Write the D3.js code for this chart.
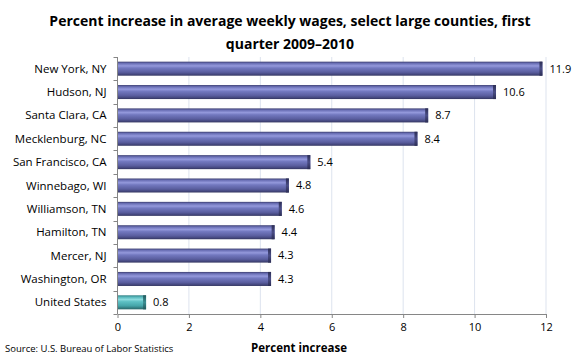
<!DOCTYPE html>
<html><head><meta charset="utf-8">
<script src="https://cdn.jsdelivr.net/npm/d3@7"></script>
<style>body{margin:0;background:#fff}svg{display:block}text{font-family:"Open Sans","Noto Sans",sans-serif}</style>
</head><body>
<svg id="c" width="580" height="360"></svg>
<script>
const categories = ["New York, NY","Hudson, NJ","Santa Clara, CA","Mecklenburg, NC","San Francisco, CA","Winnebago, WI","Williamson, TN","Hamilton, TN","Mercer, NJ","Washington, OR","United States"];
const values = [11.9,10.6,8.7,8.4,5.4,4.8,4.6,4.4,4.3,4.3,0.8];
const xTicks = [0,2,4,6,8,10,12];

const svg = d3.select("#c");
const m = {l:117.5, r:546, t:57, b:314};
const x = d3.scaleLinear().domain([0,12]).range([m.l,m.r]);
const y = d3.scaleBand().domain(categories).range([m.t,m.b]).paddingInner(0.4).paddingOuter(0.2);

const defs = svg.append("defs");
function grad(id, stops){
  const g = defs.append("linearGradient").attr("id",id).attr("x1",0).attr("y1",0).attr("x2",0).attr("y2",1);
  stops.forEach(s=>g.append("stop").attr("offset",s[0]).attr("stop-color",s[1]));
}
grad("gb",[[0,"#3c3e70"],[0.12,"#6a6fb5"],[0.3,"#9499dc"],[0.45,"#7379c0"],[0.75,"#5a5e9f"],[0.9,"#45487f"],[1,"#33355f"]]);
grad("gt",[[0,"#2f7e82"],[0.12,"#55b6ba"],[0.3,"#8bdadd"],[0.45,"#5ec0c4"],[0.75,"#45a5a9"],[0.9,"#347e82"],[1,"#2a6669"]]);
grad("cb",[[0,"#2c2e55"],[0.5,"#4a4d85"],[1,"#2c2e55"]]);
grad("ct",[[0,"#235a5d"],[0.5,"#3b8e92"],[1,"#235a5d"]]);

// title
svg.append("text").attr("x",290).attr("y",26).attr("text-anchor","middle").attr("font-size",14).attr("font-weight","bold").attr("fill","#000")
  .text("Percent increase in average weekly wages, select large counties, first");
svg.append("text").attr("x",290).attr("y",49).attr("text-anchor","middle").attr("font-size",14).attr("font-weight","bold").attr("fill","#000")
  .text("quarter 2009\u20132010");

// gridlines
svg.append("g").selectAll("line").data(xTicks.slice(1)).join("line")
  .attr("x1",d=>x(d)).attr("x2",d=>x(d)).attr("y1",m.t).attr("y2",m.b)
  .attr("stroke","#dde3ee").attr("stroke-width",1);

// bars
const bars = svg.append("g").selectAll("g").data(categories).join("g");
bars.append("rect").attr("x",x(0)+0.5).attr("y",d=>y(d)).attr("height",y.bandwidth())
  .attr("width",(d,i)=>x(values[i])-x(0)-0.5)
  .attr("fill",(d,i)=>i===10?"url(#gt)":"url(#gb)");
bars.append("rect").attr("x",(d,i)=>x(values[i])-3).attr("y",d=>y(d)).attr("height",y.bandwidth()).attr("width",3)
  .attr("fill",(d,i)=>i===10?"url(#ct)":"url(#cb)");
bars.append("text").attr("x",(d,i)=>x(values[i])+7).attr("y",d=>y(d)+y.bandwidth()/2).attr("dy","0.35em")
  .attr("font-size",11).attr("fill","#000").text((d,i)=>values[i].toFixed(1));

// y axis
const ya = svg.append("g");
ya.append("line").attr("x1",m.l).attr("x2",m.l).attr("y1",m.t).attr("y2",m.b).attr("stroke","#868686");
const bounds = d3.range(categories.length+1).map(i=>m.t + (m.b-m.t)*i/categories.length);
ya.selectAll("line.t").data(bounds).join("line").attr("class","t")
  .attr("x1",m.l-4).attr("x2",m.l).attr("y1",d=>Math.round(d)+0.5).attr("y2",d=>Math.round(d)+0.5).attr("stroke","#868686");
ya.selectAll("text").data(categories).join("text").attr("x",m.l-11).attr("y",d=>y(d)+y.bandwidth()/2).attr("dy","0.35em")
  .attr("text-anchor","end").attr("font-size",11.5).attr("fill","#000").text(d=>d);

// x axis
const xa = svg.append("g").attr("transform",`translate(0,${m.b})`)
  .call(d3.axisBottom(x).tickValues(xTicks).tickSize(4).tickSizeOuter(0).tickFormat(d3.format("d")));
xa.select(".domain").attr("stroke","#868686");
xa.selectAll(".tick line").attr("stroke","#868686");
xa.selectAll(".tick text").attr("font-size",11).attr("fill","#000").attr("y",9).attr("dy","0.71em").style("font-family",'"Open Sans","Noto Sans",sans-serif');

svg.append("text").attr("x",299).attr("y",352).attr("text-anchor","middle").attr("font-size",11.5).attr("font-weight","bold").text("Percent increase");
svg.append("text").attr("x",5).attr("y",352).attr("font-size",9.5).text("Source: U.S. Bureau of Labor Statistics");
</script>
</body></html>
